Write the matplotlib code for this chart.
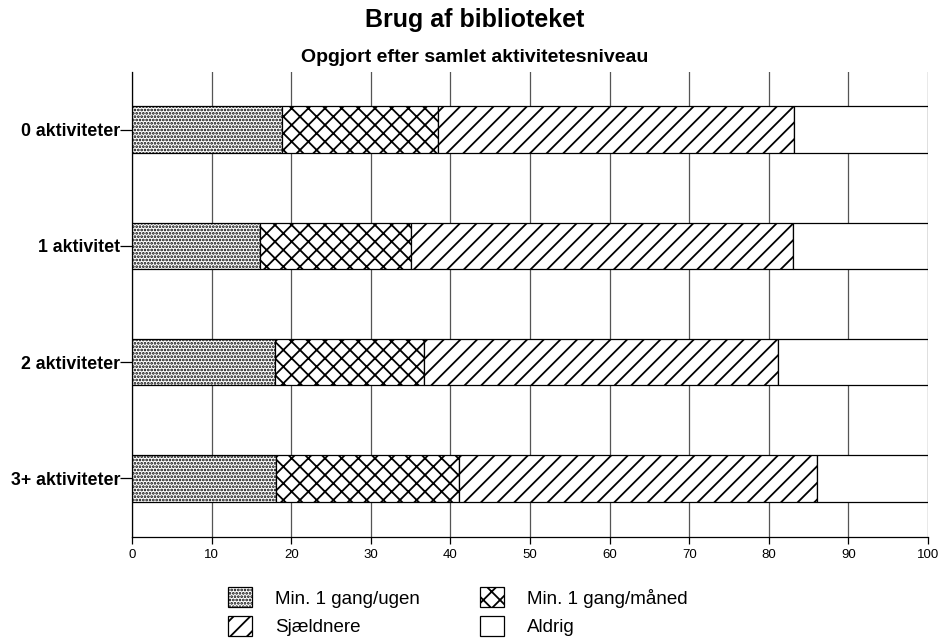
import matplotlib
matplotlib.use("Agg")
import matplotlib.pyplot as plt

# --- Data ---
grupper = ["0 aktiviteter", "1 aktivitet", "2 aktiviteter", "3+ aktiviteter"]
ugen = [18.8, 16.1, 18.0, 18.1]
maaned = [19.6, 18.9, 18.7, 23.0]
sjaeldnere = [44.8, 48.0, 44.5, 44.9]
aldrig = [16.8, 17.0, 18.8, 14.0]
x_ticks = list(range(0, 101, 10))

plt.rcParams['font.family'] = ['Liberation Sans', 'DejaVu Sans']
plt.rcParams['hatch.linewidth'] = 1.3

fig = plt.figure(figsize=(9.39, 6.44), dpi=100)
ax = fig.add_axes([132 / 939, 1 - 536.5 / 644, 796 / 939, 465 / 644])

serier = [
    ("Min. 1 gang/ugen", ugen, "....."),
    ("Min. 1 gang/måned", maaned, "xx"),
    ("Sjældnere", sjaeldnere, "//"),
    ("Aldrig", aldrig, ""),
]

y = list(range(len(grupper)))
venstre = [0] * len(grupper)
bars = []
for navn, vaerdier, hatch in serier:
    b = ax.barh(y, vaerdier, left=venstre, height=0.40, color="white",
                edgecolor="black", linewidth=0.9, hatch=hatch, label=navn)
    bars.append(b)
    venstre = [v + w for v, w in zip(venstre, vaerdier)]

ax.set_xlim(0, 100)
ax.set_ylim(3.5, -0.5)
ax.set_xticks(x_ticks)
ax.set_xticklabels([str(t) for t in x_ticks], fontsize=9.5)
ax.set_yticks(y)
ax.set_yticklabels(grupper, fontsize=12.8, fontweight="bold")
ax.tick_params(axis="y", length=8.5, width=0.9, pad=0)
ax.tick_params(axis="x", length=5, width=0.9, pad=4)

ax.set_axisbelow(True)
ax.grid(axis="x", color="#555555", linewidth=0.9)
ax.spines["top"].set_visible(False)
ax.spines["right"].set_visible(False)
ax.spines["left"].set_linewidth(0.9)
ax.spines["bottom"].set_linewidth(0.9)

fig.text(0.506, 1 - 20 / 644, "Brug af biblioteket", ha="center", va="center",
         fontsize=18, fontweight="bold")
fig.text(0.506, 1 - 58 / 644, "Opgjort efter samlet aktivitetesniveau", ha="center",
         va="center", fontsize=14, fontweight="bold")

# raekkefoelge saa legenden laeses raekkevis
orden = [0, 2, 1, 3]
fs = 13.5
fig.legend([bars[i] for i in orden], [serier[i][0] for i in orden],
           loc="upper left", bbox_to_anchor=(228 / 939, 1 - 587 / 644), ncol=2,
           frameon=False, fontsize=fs, handlelength=1.28, handleheight=1.3,
           handletextpad=1.23, columnspacing=3.2, labelspacing=0.45,
           borderpad=0, borderaxespad=0)

fig.savefig("out.png", dpi=100)
